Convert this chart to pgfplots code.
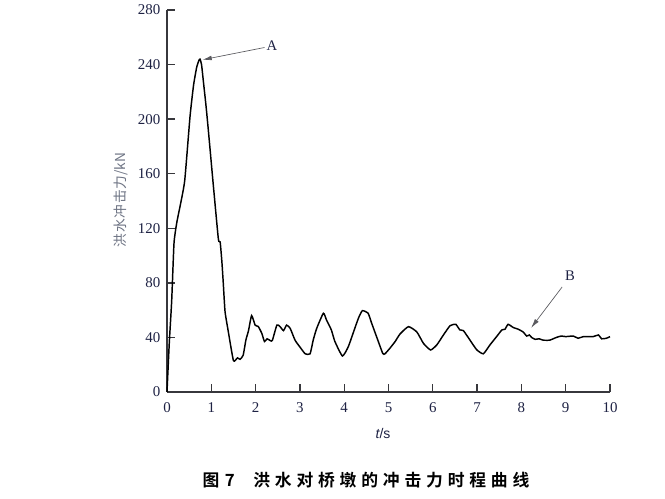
\documentclass[border=0pt]{standalone}
\usepackage{fontspec}
\setmainfont{Liberation Serif}
\newfontfamily\cjk{Noto Sans CJK SC}
\newfontfamily\cjkb{Noto Sans CJK SC Bold}
\newfontfamily\arial{Liberation Sans}
\usepackage{pgfplots}
\pgfplotsset{compat=1.18}
\usetikzlibrary{arrows.meta}
\definecolor{ticklab}{RGB}{30,34,68}
\definecolor{ylab}{RGB}{110,116,132}
\definecolor{axcol}{RGB}{55,55,60}
\definecolor{arrcol}{RGB}{90,90,95}
\begin{document}
\begin{tikzpicture}[x=0.75pt,y=0.75pt]
\path[use as bounding box,fill=white] (0,0) rectangle (665,499);
\begin{axis}[
  at={(125.25pt,80.25pt)}, anchor=south west,
  scale only axis, width=332.25pt, height=286.5pt,
  xmin=0, xmax=10, ymin=0, ymax=280,
  axis lines*=left,
  axis line style={axcol, line width=1.1pt},
  xtick={0,1,...,10}, ytick={0,40,...,280},
  tick align=inside,
  major tick length=6pt,
  tick style={axcol, line width=1pt},
  ticklabel style={font=\fontsize{11.2}{13}\selectfont, text=ticklab},
  /pgf/number format/assume math mode=true,
  xticklabel style={yshift=-4.5pt},
  yticklabel style={xshift=-1.5pt},
  clip=false,
]
\addplot[black, line width=1.1pt, smooth, tension=0.3] coordinates {
(0,0) (0.05,35) (0.106,67) (0.158,109) (0.22,124) (0.3,137) (0.4,155)
(0.52,202) (0.6,225) (0.67,238) (0.72,243) (0.745,244) (0.78,240)
(0.82,228) (0.88,210) (0.93,193) (1.05,150) (1.16,112) (1.2,110)
(1.24,95) (1.27,80) (1.31,59) (1.38,45) (1.5,23) (1.59,25) (1.65,24)
(1.72,27) (1.78,38) (1.84,45) (1.91,56) (1.99,49) (2.06,48) (2.14,43)
(2.2,37) (2.26,39) (2.34,37.5) (2.38,38) (2.48,49) (2.55,48) (2.63,45)
(2.7,49) (2.78,46.7) (2.89,38) (3.0,33) (3.12,28) (3.23,28) (3.3,38)
(3.38,46.7) (3.53,57.7) (3.6,52.8) (3.71,45.5) (3.79,37) (3.96,26.4)
(4.09,33) (4.2,43) (4.32,54) (4.41,59.6) (4.54,57.7) (4.62,50.4)
(4.73,40.6) (4.87,28.3) (4.92,28) (5.03,32) (5.15,37) (5.26,42.5)
(5.45,47.9) (5.64,44) (5.79,35.6) (5.95,30.8) (6.09,34.5) (6.24,41.8)
(6.39,48.6) (6.52,49.6) (6.61,45.5) (6.69,45) (6.84,38) (6.99,31)
(7.14,28) (7.29,34.5) (7.44,40.6) (7.56,45.5) (7.63,46) (7.7,49.6)
(7.82,47.2) (7.93,46) (8.04,44) (8.12,41) (8.18,41.8) (8.23,40)
(8.31,38.6) (8.4,39) (8.49,38) (8.64,38) (8.79,40) (8.9,41) (9.0,40.6)
(9.17,41) (9.28,39.4) (9.4,40.6) (9.62,40.6) (9.74,41.8) (9.81,39)
(9.92,39.4) (10.0,40.6)
};
\draw[arrcol, line width=0.5pt, -{Latex[length=7pt,width=3.5pt]}] (axis cs:2.2,252.5) -- (axis cs:0.8,243.5);
\node[font=\fontsize{11}{13}\selectfont, text=ticklab] at (axis cs:2.37,254) {A};
\draw[arrcol, line width=0.5pt, -{Latex[length=7pt,width=3.5pt]}] (axis cs:8.92,77) -- (axis cs:8.22,47);
\node[font=\fontsize{11}{13}\selectfont, text=ticklab] at (axis cs:9.1,85) {B};
\end{axis}
\node[rotate=90, text=ylab, font=\fontsize{10.3}{12}\selectfont] at (121,299) {\cjk 洪\kern0.6pt 水\kern0.6pt 冲\kern0.6pt 击\kern0.6pt 力/kN};
\node[text=ticklab, font=\fontsize{10.5}{12}\selectfont] at (383,65) {\arial\itshape t\upshape/s};
\node[text=black, font=\fontsize{12.6}{14}\selectfont] at (366,19) {\cjkb 图\kern4pt 7\kern14pt 洪\kern3.6pt 水\kern3.6pt 对\kern3.6pt 桥\kern3.6pt 墩\kern3.6pt 的\kern3.6pt 冲\kern3.6pt 击\kern3.6pt 力\kern3.6pt 时\kern3.6pt 程\kern3.6pt 曲\kern3.6pt 线};
\end{tikzpicture}
\end{document}
